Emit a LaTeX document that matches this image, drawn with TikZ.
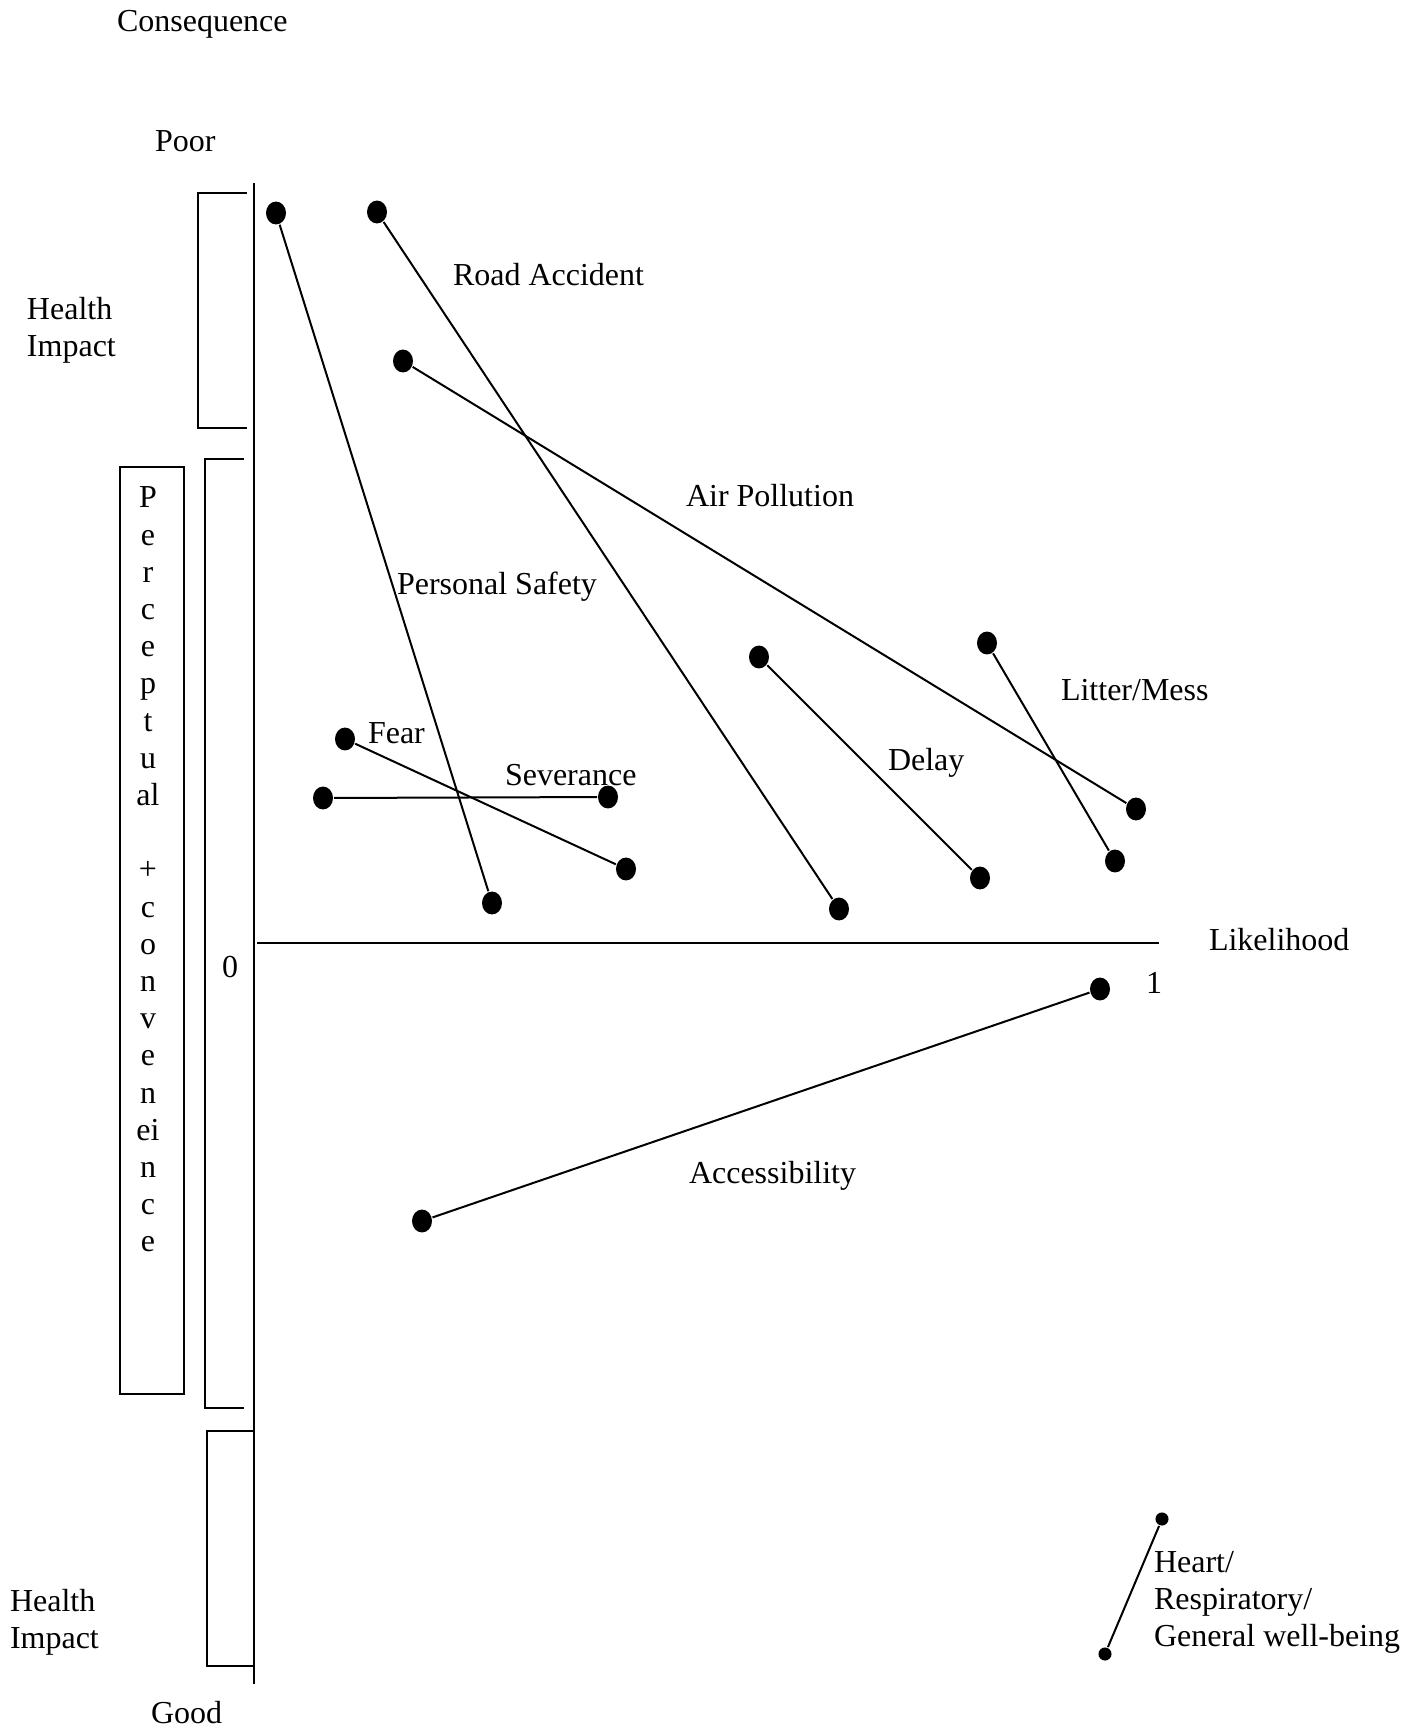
\documentclass[tikz,border=0pt]{standalone}
\usepackage{fontspec}
\setmainfont{Liberation Serif}
\usetikzlibrary{shapes.geometric}

\begin{document}
\begin{tikzpicture}[x=0.375pt,y=-0.375pt,line width=0.75pt,
        font=\fontsize{12}{13.95}\selectfont,
        riskdot/.style={ellipse,fill,inner sep=0pt,minimum width=7.5pt,minimum height=8.6pt},
        smalldot/.style={circle,fill,inner sep=0pt,minimum size=4.9pt},
        lbl/.style={anchor=base west,inner sep=0pt},
        multilbl/.style={anchor=north west,inner sep=0pt,align=left}]
            \useasboundingbox (0,0) rectangle (1418,1731);
            \node[lbl] (conseq) at (116,32) {Consequence};
            \node[lbl] (poor) at (154,151) {Poor};
            \node[lbl] (good) at (150,1723) {Good};
            \node[multilbl] (healthtop) at (26,296) {Health\\Impact};
            \node[multilbl] (healthbot) at (9,1588) {Health\\Impact};
            \coordinate (ytop) at (254,183);
            \coordinate (ybot) at (254,1684);
            \coordinate (xleft) at (257,943);
            \coordinate (xright) at (1159,943);
            \draw (ytop)--(ybot);
            \draw (xleft)--(xright);
            \node[anchor=base,inner sep=0pt] (zero) at (230,977) {0};
            \node[anchor=base,inner sep=0pt] (one) at (1154,993) {1};
            \node[lbl] (likely) at (1208,950) {Likelihood};
            \draw (247,193)--(198,193)--(198,428)--(247,428);
            \draw (244,459)--(205,459)--(205,1408)--(244,1408);
            \draw (254,1431)--(207,1431)--(207,1666)--(254,1666);
            \node[draw,anchor=north west,inner sep=0pt,minimum width=24pt,minimum height=347.6pt] (percbox) at (119,466) {};
            \node[anchor=north,inner sep=0pt,align=center] (perctext) at (148,486)
                {P\\e\\r\\c\\e\\p\\t\\u\\al\\[13.95pt]+\\c\\o\\n\\v\\e\\n\\ei\\n\\c\\e};
            \node[riskdot] (ps1) at (276,213) {};
            \node[riskdot] (ps2) at (492,903) {};
            \node[riskdot] (ra1) at (377,212) {};
            \node[riskdot] (ra2) at (839,909) {};
            \node[riskdot] (ap1) at (403,361) {};
            \node[riskdot] (ap2) at (1136,809) {};
            \node[riskdot] (fe1) at (345,739) {};
            \node[riskdot] (fe2) at (626,869) {};
            \node[riskdot] (sv1) at (323,798) {};
            \node[riskdot] (sv2) at (608,797) {};
            \node[riskdot] (dl1) at (759,657) {};
            \node[riskdot] (dl2) at (980,878) {};
            \node[riskdot] (lm1) at (987,643) {};
            \node[riskdot] (lm2) at (1115,861) {};
            \node[riskdot] (ac1) at (1100,989) {};
            \node[riskdot] (ac2) at (422,1221) {};
            \node[smalldot] (hr1) at (1162,1519) {};
            \node[smalldot] (hr2) at (1105,1654) {};
            \draw (ps1)--(ps2);
            \draw (ra1)--(ra2);
            \draw (ap1)--(ap2);
            \draw (fe1)--(fe2);
            \draw (sv1)--(sv2);
            \draw (dl1)--(dl2);
            \draw (lm1)--(lm2);
            \draw (ac1)--(ac2);
            \draw (hr1)--(hr2);
            \node[lbl] (roadlbl) at (452,285) {Road Accident};
            \node[lbl] (airlbl) at (685,506) {Air Pollution};
            \node[lbl] (safelbl) at (396,594) {Personal Safety};
            \node[lbl] (fearlbl) at (367,743) {Fear};
            \node[lbl] (sevlbl) at (504,785) {Severance};
            \node[lbl] (delaylbl) at (887,770) {Delay};
            \node[lbl] (litterlbl) at (1060,700) {Litter/Mess};
            \node[lbl] (accesslbl) at (688,1183) {Accessibility};
            \node[multilbl] (heartlbl) at (1153,1550) {Heart/\\Respiratory/\\General well-being};
\end{tikzpicture}
\end{document}
